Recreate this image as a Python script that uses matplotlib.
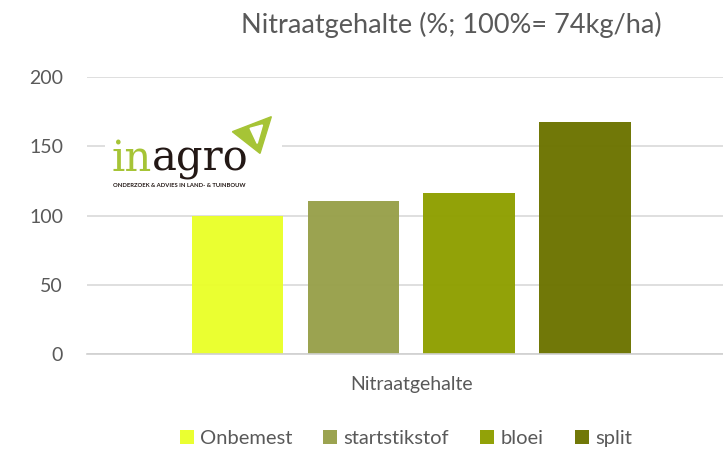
import matplotlib
matplotlib.use("Agg")
import matplotlib.pyplot as plt
from matplotlib.patches import Polygon, Rectangle

categories = ["Onbemest", "startstikstof", "bloei", "split"]
values = [100, 110.4, 116.2, 167.4]
colors = ["#EAFF2A", "#98A04A", "#8F9F00", "#6C7400"]
yticks = [0, 50, 100, 150, 200]
group_label = "Nitraatgehalte"
title = "Nitraatgehalte (%; 100%= 74kg/ha)"

plt.rcParams["font.family"] = ["Lato", "DejaVu Sans"]
grey = "#595959"

fig = plt.figure(figsize=(7.23, 4.51), dpi=100)
ax = fig.add_axes([0.120, 0.215, 0.880, 0.614])

x = [-1.5 + i for i in range(len(values))]
for xi, v, c, lab in zip(x, values, colors, categories):
    ax.bar(xi, v, width=0.79, color=c, label=lab, zorder=2, alpha=0.97)

ax.set_xlim(-2.80, 2.69)
ax.set_ylim(0, 200)
ax.set_yticks(yticks)
ax.tick_params(axis="y", length=0, pad=17, labelsize=14, labelcolor=grey)
ax.set_xticks([0])
ax.set_xticklabels([group_label])
ax.tick_params(axis="x", length=0, pad=16, labelsize=14, labelcolor=grey)
ax.grid(axis="y", color="#d9d9d9", lw=1.2, zorder=1)
for s in ["top", "right", "left"]:
    ax.spines[s].set_visible(False)
ax.spines["bottom"].set_color("#d0d0d0")
ax.spines["bottom"].set_linewidth(1.2)

fig.text(0.624, 0.945, title, ha="center", va="center", fontsize=19.5, color=grey)

leg = fig.legend(loc="center", bbox_to_anchor=(0.561, 0.028), ncol=4, frameon=False,
                 fontsize=14.5, handlelength=0.7, handleheight=0.7, handletextpad=0.3,
                 columnspacing=1.55)
for t in leg.get_texts():
    t.set_color(grey)

# inagro logo (white background box hides the gridline behind it)
la = fig.add_axes([0.145, 0.56, 0.245, 0.185])
la.set_xlim(0, 1)
la.set_ylim(0, 1)
la.axis("off")
la.add_patch(Rectangle((0, 0), 1, 1, color="white", zorder=0))
t_in = la.text(0.04, 0.22, "in", fontsize=30, color="#A6C436", family="DejaVu Serif",
               va="bottom", ha="left")
la.annotate("agro", xy=(1, 0), xycoords=t_in, fontsize=30, color="#231815",
            family="DejaVu Serif", va="bottom", ha="left")
la.text(0.045, 0.15, "ONDERZOEK & ADVIES IN LAND- & TUINBOUW", fontsize=4.2,
        color="#231815", weight="bold", va="center", ha="left")
la.add_patch(Polygon([[0.72, 0.80], [0.94, 0.98], [0.876, 0.54]],
                     closed=True, color="#A6C436"))
la.add_patch(Polygon([[0.82, 0.84], [0.89, 0.88], [0.86, 0.66]],
                     closed=True, color="white"))

fig.savefig("out.png", dpi=100)
